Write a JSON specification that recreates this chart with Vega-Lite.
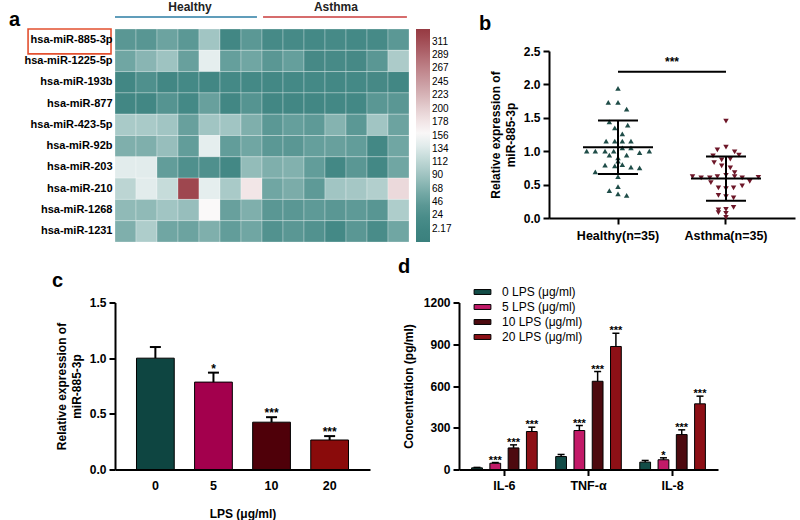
{
  "$schema": "https://vega.github.io/schema/vega-lite/v6.json",
  "padding": {"left": 9, "top": 1, "right": 5, "bottom": 2},
  "config": {
    "font": "Liberation Sans",
    "view": {"stroke": null},
    "axis": {"grid": false, "domainColor": "#000", "domainWidth": 2, "tickColor": "#000", "tickWidth": 2, "tickSize": 6, "labelColor": "#000", "labelFontWeight": "bold", "labelFontSize": 12, "titleColor": "#000", "titleFontWeight": "bold", "titleFontSize": 12, "titleLineHeight": 15},
    "title": {"fontSize": 20, "fontWeight": "bold", "anchor": "start", "frame": "group", "color": "#000", "baseline": "alphabetic"},
    "legend": {"labelColor": "#000"}
  },
  "resolve": {"scale": {"color": "independent", "shape": "independent", "xOffset": "independent"}, "legend": {"color": "independent"}},
  "datasets": {
    "heat": [
      {"m": "hsa-miR-885-3p", "H1": 40, "H2": 38, "H3": 55, "H4": 42, "H5": 92, "H6": 8, "H7": 42, "A1": 15, "A2": 15, "A3": 12, "A4": 15, "A5": 12, "A6": 15, "A7": 42},
      {"m": "hsa-miR-1225-5p", "H1": 58, "H2": 75, "H3": 90, "H4": 52, "H5": 142, "H6": 50, "H7": 58, "A1": 40, "A2": 50, "A3": 14, "A4": 16, "A5": 14, "A6": 40, "A7": 100},
      {"m": "hsa-miR-193b", "H1": 8, "H2": 28, "H3": 8, "H4": 12, "H5": 8, "H6": 12, "H7": 12, "A1": 10, "A2": 12, "A3": 12, "A4": 10, "A5": 12, "A6": 14, "A7": 8},
      {"m": "hsa-miR-877", "H1": 8, "H2": 8, "H3": 35, "H4": 12, "H5": 52, "H6": 8, "H7": 35, "A1": 8, "A2": 8, "A3": 8, "A4": 10, "A5": 10, "A6": 40, "A7": 40},
      {"m": "hsa-miR-423-5p", "H1": 98, "H2": 98, "H3": 92, "H4": 52, "H5": 92, "H6": 92, "H7": 68, "A1": 42, "A2": 50, "A3": 45, "A4": 72, "A5": 42, "A6": 92, "A7": 55},
      {"m": "hsa-miR-92b", "H1": 68, "H2": 68, "H3": 85, "H4": 48, "H5": 142, "H6": 48, "H7": 58, "A1": 42, "A2": 40, "A3": 50, "A4": 52, "A5": 48, "A6": 10, "A7": 58},
      {"m": "hsa-miR-203", "H1": 140, "H2": 140, "H3": 48, "H4": 28, "H5": 28, "H6": 10, "H7": 82, "A1": 68, "A2": 70, "A3": 48, "A4": 10, "A5": 40, "A6": 10, "A7": 58},
      {"m": "hsa-miR-210", "H1": 112, "H2": 140, "H3": 120, "H4": 318, "H5": 142, "H6": 98, "H7": 178, "A1": 58, "A2": 65, "A3": 45, "A4": 92, "A5": 95, "A6": 105, "A7": 190},
      {"m": "hsa-miR-1268", "H1": 80, "H2": 80, "H3": 92, "H4": 85, "H5": 158, "H6": 52, "H7": 68, "A1": 40, "A2": 40, "A3": 45, "A4": 40, "A5": 45, "A6": 38, "A7": 102},
      {"m": "hsa-miR-1231", "H1": 68, "H2": 102, "H3": 58, "H4": 55, "H5": 68, "H6": 48, "H7": 58, "A1": 32, "A2": 40, "A3": 32, "A4": 12, "A5": 40, "A6": 20, "A7": 58}
    ],
    "groups": [
      {"label": "Healthy", "x0": 0.0, "x1": 6.76, "xm": 3.57},
      {"label": "Asthma", "x0": 7.05, "x1": 13.9, "xm": 10.52}
    ],
    "pts": [
      {"g": "Healthy(n=35)", "j": 0, "v": 1.94},
      {"g": "Healthy(n=35)", "j": -0.09, "v": 1.73},
      {"g": "Healthy(n=35)", "j": 0, "v": 1.73},
      {"g": "Healthy(n=35)", "j": 0.08, "v": 1.63},
      {"g": "Healthy(n=35)", "j": -0.08, "v": 1.44},
      {"g": "Healthy(n=35)", "j": 0.09, "v": 1.39},
      {"g": "Healthy(n=35)", "j": -0.03, "v": 1.35},
      {"g": "Healthy(n=35)", "j": 0.04, "v": 1.26},
      {"g": "Healthy(n=35)", "j": -0.11, "v": 1.15},
      {"g": "Healthy(n=35)", "j": -0.03, "v": 1.15},
      {"g": "Healthy(n=35)", "j": 0.04, "v": 1.15},
      {"g": "Healthy(n=35)", "j": 0.12, "v": 1.15},
      {"g": "Healthy(n=35)", "j": -0.29, "v": 1.0},
      {"g": "Healthy(n=35)", "j": -0.21, "v": 1.0},
      {"g": "Healthy(n=35)", "j": -0.12, "v": 1.0},
      {"g": "Healthy(n=35)", "j": -0.04, "v": 1.0},
      {"g": "Healthy(n=35)", "j": 0.04, "v": 1.05},
      {"g": "Healthy(n=35)", "j": 0.12, "v": 1.05},
      {"g": "Healthy(n=35)", "j": 0.2, "v": 0.98},
      {"g": "Healthy(n=35)", "j": 0.29, "v": 1.0},
      {"g": "Healthy(n=35)", "j": -0.08, "v": 0.94},
      {"g": "Healthy(n=35)", "j": 0.08, "v": 0.94},
      {"g": "Healthy(n=35)", "j": 0, "v": 0.9},
      {"g": "Healthy(n=35)", "j": 0, "v": 0.85},
      {"g": "Healthy(n=35)", "j": -0.12, "v": 0.79},
      {"g": "Healthy(n=35)", "j": -0.03, "v": 0.78},
      {"g": "Healthy(n=35)", "j": 0.04, "v": 0.8},
      {"g": "Healthy(n=35)", "j": 0.12, "v": 0.76},
      {"g": "Healthy(n=35)", "j": 0.2, "v": 0.75},
      {"g": "Healthy(n=35)", "j": -0.21, "v": 0.69},
      {"g": "Healthy(n=35)", "j": 0, "v": 0.62},
      {"g": "Healthy(n=35)", "j": -0.08, "v": 0.41},
      {"g": "Healthy(n=35)", "j": 0, "v": 0.47},
      {"g": "Healthy(n=35)", "j": 0, "v": 0.36},
      {"g": "Healthy(n=35)", "j": 0.08, "v": 0.34},
      {"g": "Asthma(n=35)", "j": 0, "v": 1.45},
      {"g": "Asthma(n=35)", "j": -0.08, "v": 1.02},
      {"g": "Asthma(n=35)", "j": 0, "v": 1.06},
      {"g": "Asthma(n=35)", "j": 0.08, "v": 0.99},
      {"g": "Asthma(n=35)", "j": 0.12, "v": 0.94},
      {"g": "Asthma(n=35)", "j": -0.12, "v": 0.93},
      {"g": "Asthma(n=35)", "j": -0.11, "v": 0.83},
      {"g": "Asthma(n=35)", "j": -0.04, "v": 0.87},
      {"g": "Asthma(n=35)", "j": 0.04, "v": 0.88},
      {"g": "Asthma(n=35)", "j": 0.04, "v": 0.75},
      {"g": "Asthma(n=35)", "j": 0.08, "v": 0.68},
      {"g": "Asthma(n=35)", "j": -0.04, "v": 0.78},
      {"g": "Asthma(n=35)", "j": -0.31, "v": 0.62},
      {"g": "Asthma(n=35)", "j": -0.23, "v": 0.6},
      {"g": "Asthma(n=35)", "j": -0.15, "v": 0.6},
      {"g": "Asthma(n=35)", "j": -0.08, "v": 0.62},
      {"g": "Asthma(n=35)", "j": 0, "v": 0.64},
      {"g": "Asthma(n=35)", "j": 0.08, "v": 0.62},
      {"g": "Asthma(n=35)", "j": 0.15, "v": 0.6},
      {"g": "Asthma(n=35)", "j": 0.22, "v": 0.55},
      {"g": "Asthma(n=35)", "j": 0.3, "v": 0.61},
      {"g": "Asthma(n=35)", "j": -0.14, "v": 0.53},
      {"g": "Asthma(n=35)", "j": -0.07, "v": 0.45},
      {"g": "Asthma(n=35)", "j": 0, "v": 0.44},
      {"g": "Asthma(n=35)", "j": 0.07, "v": 0.45},
      {"g": "Asthma(n=35)", "j": 0.15, "v": 0.48},
      {"g": "Asthma(n=35)", "j": -0.07, "v": 0.34},
      {"g": "Asthma(n=35)", "j": 0, "v": 0.32},
      {"g": "Asthma(n=35)", "j": 0.07, "v": 0.3},
      {"g": "Asthma(n=35)", "j": -0.07, "v": 0.12},
      {"g": "Asthma(n=35)", "j": 0, "v": 0.13},
      {"g": "Asthma(n=35)", "j": 0.07, "v": 0.16},
      {"g": "Asthma(n=35)", "j": -0.07, "v": 0.08},
      {"g": "Asthma(n=35)", "j": 0, "v": 0.07},
      {"g": "Asthma(n=35)", "j": 0, "v": 0.01}
    ],
    "stats": [
      {"g": "Healthy(n=35)", "mean": 1.06, "lo": 0.66, "hi": 1.46},
      {"g": "Asthma(n=35)", "mean": 0.59, "lo": 0.26, "hi": 0.92}
    ],
    "sig": [
      {"g": "Healthy(n=35)", "g2": "Asthma(n=35)", "v": 2.19, "t": 2.27, "j": 0.5, "s": "***"}
    ],
    "cdata": [
      {"lps": "0", "v": 1.0, "e": 1.1, "sig": ""},
      {"lps": "5", "v": 0.785, "e": 0.87, "sig": "*"},
      {"lps": "10", "v": 0.425, "e": 0.47, "sig": "***"},
      {"lps": "20", "v": 0.265, "e": 0.3, "sig": "***"}
    ],
    "ddata": [
      {"ck": "IL-6", "dose": "0", "v": 12, "e": 15, "sig": ""},
      {"ck": "IL-6", "dose": "5", "v": 45, "e": 50, "sig": "***"},
      {"ck": "IL-6", "dose": "10", "v": 155, "e": 177, "sig": "***"},
      {"ck": "IL-6", "dose": "20", "v": 273, "e": 304, "sig": "***"},
      {"ck": "TNF-α", "dose": "0", "v": 93, "e": 108, "sig": ""},
      {"ck": "TNF-α", "dose": "5", "v": 280, "e": 316, "sig": "***"},
      {"ck": "TNF-α", "dose": "10", "v": 634, "e": 704, "sig": "***"},
      {"ck": "TNF-α", "dose": "20", "v": 884, "e": 979, "sig": "***"},
      {"ck": "IL-8", "dose": "0", "v": 53, "e": 65, "sig": ""},
      {"ck": "IL-8", "dose": "5", "v": 70, "e": 84, "sig": "*"},
      {"ck": "IL-8", "dose": "10", "v": 251, "e": 285, "sig": "***"},
      {"ck": "IL-8", "dose": "20", "v": 472, "e": 527, "sig": "***"}
    ]
  },
  "vconcat": [
    {
      "resolve": {"scale": {"color": "independent", "shape": "independent", "xOffset": "independent"}, "legend": {"color": "independent"}},
      "hconcat": [
        {
          "width": 294,
          "height": 213,
          "title": {"text": "a", "dx": -106, "dy": 32, "offset": 3},
          "layer": [
            {
              "data": {"name": "heat"},
              "transform": [{"fold": ["H1", "H2", "H3", "H4", "H5", "H6", "H7", "A1", "A2", "A3", "A4", "A5", "A6", "A7"], "as": ["s", "v"]}],
              "mark": {"type": "rect", "stroke": "#ffffff", "strokeWidth": 0.6, "strokeOpacity": 0.45},
              "encoding": {
                "x": {"field": "s", "type": "nominal", "scale": {"domain": ["H1", "H2", "H3", "H4", "H5", "H6", "H7", "A1", "A2", "A3", "A4", "A5", "A6", "A7"], "paddingInner": 0, "paddingOuter": 0}, "axis": null},
                "y": {"field": "m", "type": "nominal", "scale": {"domain": ["hsa-miR-885-3p", "hsa-miR-1225-5p", "hsa-miR-193b", "hsa-miR-877", "hsa-miR-423-5p", "hsa-miR-92b", "hsa-miR-203", "hsa-miR-210", "hsa-miR-1268", "hsa-miR-1231"], "paddingInner": 0, "paddingOuter": 0}, "axis": {"title": null, "domain": false, "ticks": false, "labelPadding": 3, "labelFontSize": 11}},
                "color": {
                  "field": "v",
                  "type": "quantitative",
                  "scale": {"type": "linear", "interpolate": "rgb",
                    "domain": [-20, 2.17, 24, 46, 68, 90, 112, 134, 156, 178, 200, 223, 245, 267, 289, 311, 332],
                    "range": ["#3a807d", "#3f8582", "#4b8d8a", "#5f9b98", "#7fafac", "#9ec3c1", "#bcd5d3", "#d8e7e6", "#fbfbfb", "#f2e6e7", "#e5cfd1", "#d6b3b6", "#c99ba0", "#bf8288", "#b06870", "#a24d55", "#963a42"]},
                  "legend": {"orient": "right", "offset": 7, "title": null, "gradientLength": 213, "gradientThickness": 14, "gradientStrokeWidth": 0, "values": [2.17, 24, 46, 68, 90, 112, 134, 156, 178, 200, 223, 245, 267, 289, 311], "labelExpr": "datum.value < 3 ? '2.17' : format(datum.value, 'd')", "labelFontSize": 10, "labelFontWeight": "normal", "labelOverlap": false, "labelOffset": 2, "padding": 0}
                }
              }
            },
            {
              "data": {"name": "groups"},
              "mark": {"type": "rule", "strokeWidth": 1.6},
              "encoding": {
                "x": {"field": "x0", "type": "quantitative", "scale": {"domain": [0, 14], "nice": false, "zero": false}, "axis": null},
                "x2": {"field": "x1"},
                "y": {"datum": 1.056, "type": "quantitative", "scale": {"domain": [0, 1], "nice": false}, "axis": null},
                "color": {"field": "label", "type": "nominal", "scale": {"domain": ["Healthy", "Asthma"], "range": ["#2b7ca3", "#c83b3b"]}, "legend": null}
              }
            },
            {
              "data": {"name": "groups"},
              "mark": {"type": "text", "fontSize": 12, "fontWeight": "bold", "color": "#222", "baseline": "middle"},
              "encoding": {
                "x": {"field": "xm", "type": "quantitative", "scale": {"domain": [0, 14], "nice": false, "zero": false}, "axis": null},
                "y": {"datum": 1.103, "type": "quantitative", "scale": {"domain": [0, 1], "nice": false}, "axis": null},
                "text": {"field": "label"}
              }
            },
            {
              "data": {"values": [{"m": "hsa-miR-885-3p"}]},
              "mark": {"type": "rect", "fill": null, "fillOpacity": 0, "stroke": "#e2502f", "strokeWidth": 1.6},
              "encoding": {
                "x": {"datum": -4.14, "type": "quantitative", "scale": {"domain": [0, 14], "nice": false, "zero": false}, "axis": null},
                "x2": {"datum": -0.19},
                "y": {"datum": 0.883, "type": "quantitative", "scale": {"domain": [0, 1], "nice": false}, "axis": null},
                "y2": {"datum": 1.0}
              }
            }
          ],
          "resolve": {"scale": {"x": "independent", "y": "independent", "color": "independent"}}
        },
        {
          "resolve": {"scale": {"color": "independent", "shape": "independent", "xOffset": "independent"}, "legend": {"color": "independent"}},
          "vconcat": [
            {"width": 246, "height": 1, "title": {"text": "b", "dx": -70, "dy": 10, "offset": 0}, "data": {"values": [{"k": 1}]}, "mark": {"type": "text", "text": " "}, "encoding": {}},
            {
              "width": 246,
              "height": 167,
              "encoding": {
                "x": {"field": "g", "type": "nominal", "scale": {"domain": ["Healthy(n=35)", "Asthma(n=35)"], "paddingInner": 0, "paddingOuter": 0.139}, "axis": {"title": null, "labelAngle": 0, "labelPadding": 5, "labelFontSize": 12.5}}
              },
              "layer": [
                {
                  "data": {"name": "pts"},
                  "mark": {"type": "point", "filled": true, "size": 30, "opacity": 1},
                  "encoding": {
                    "xOffset": {"field": "j", "type": "quantitative", "scale": {"domain": [-0.5, 0.5]}},
                    "y": {"field": "v", "type": "quantitative", "scale": {"domain": [0, 2.5], "nice": false}, "axis": {"values": [0, 0.5, 1, 1.5, 2, 2.5], "format": ".1f", "titlePadding": 6, "labelPadding": 3}, "title": ["Relative expression of", "miR-885-3p"]},
                    "shape": {"field": "g", "type": "nominal", "scale": {"domain": ["Healthy(n=35)", "Asthma(n=35)"], "range": ["triangle-up", "triangle-down"]}, "legend": null},
                    "color": {"field": "g", "type": "nominal", "scale": {"domain": ["Healthy(n=35)", "Asthma(n=35)"], "range": ["#1f4d48", "#6d1628"]}, "legend": null}
                  }
                },
                {
                  "data": {"name": "stats"},
                  "mark": {"type": "rule", "strokeWidth": 2, "color": "#000"},
                  "encoding": {
                    "y": {"field": "lo", "type": "quantitative", "scale": {"domain": [0, 2.5], "nice": false}, "axis": {"values": [0, 0.5, 1, 1.5, 2, 2.5], "format": ".1f", "titlePadding": 6, "labelPadding": 3}, "title": ["Relative expression of", "miR-885-3p"]},
                    "y2": {"field": "hi"}
                  }
                },
                {
                  "data": {"name": "stats"},
                  "mark": {"type": "tick", "size": 70, "thickness": 2, "color": "#000", "opacity": 1},
                  "encoding": {
                    "y": {"field": "mean", "type": "quantitative", "scale": {"domain": [0, 2.5], "nice": false}, "axis": {"values": [0, 0.5, 1, 1.5, 2, 2.5], "format": ".1f", "titlePadding": 6, "labelPadding": 3}, "title": ["Relative expression of", "miR-885-3p"]}
                  }
                },
                {
                  "data": {"name": "stats"},
                  "mark": {"type": "tick", "size": 40, "thickness": 2, "color": "#000", "opacity": 1},
                  "encoding": {
                    "y": {"field": "lo", "type": "quantitative", "scale": {"domain": [0, 2.5], "nice": false}, "axis": {"values": [0, 0.5, 1, 1.5, 2, 2.5], "format": ".1f", "titlePadding": 6, "labelPadding": 3}, "title": ["Relative expression of", "miR-885-3p"]}
                  }
                },
                {
                  "data": {"name": "stats"},
                  "mark": {"type": "tick", "size": 40, "thickness": 2, "color": "#000", "opacity": 1},
                  "encoding": {
                    "y": {"field": "hi", "type": "quantitative", "scale": {"domain": [0, 2.5], "nice": false}, "axis": {"values": [0, 0.5, 1, 1.5, 2, 2.5], "format": ".1f", "titlePadding": 6, "labelPadding": 3}, "title": ["Relative expression of", "miR-885-3p"]}
                  }
                },
                {
                  "data": {"name": "sig"},
                  "mark": {"type": "rule", "strokeWidth": 2, "color": "#000"},
                  "encoding": {
                    "x2": {"field": "g2"},
                    "y": {"field": "v", "type": "quantitative", "scale": {"domain": [0, 2.5], "nice": false}, "axis": {"values": [0, 0.5, 1, 1.5, 2, 2.5], "format": ".1f", "titlePadding": 6, "labelPadding": 3}, "title": ["Relative expression of", "miR-885-3p"]}
                  }
                },
                {
                  "data": {"name": "sig"},
                  "mark": {"type": "text", "fontSize": 12, "fontWeight": "bold", "baseline": "alphabetic", "color": "#000"},
                  "encoding": {
                    "xOffset": {"field": "j", "type": "quantitative", "scale": {"domain": [-0.5, 0.5]}},
                    "y": {"field": "t", "type": "quantitative", "scale": {"domain": [0, 2.5], "nice": false}, "axis": {"values": [0, 0.5, 1, 1.5, 2, 2.5], "format": ".1f", "titlePadding": 6, "labelPadding": 3}, "title": ["Relative expression of", "miR-885-3p"]},
                    "text": {"field": "s"}
                  }
                }
              ]
            }
          ],
          "spacing": 10
        }
      ],
      "spacing": 27
    },
    {
      "resolve": {"scale": {"color": "independent", "shape": "independent", "xOffset": "independent"}, "legend": {"color": "independent"}},
      "hconcat": [
        {
          "width": 255,
          "height": 167,
          "title": {"text": "c", "dx": -63, "offset": 5.5},
          "data": {"name": "cdata"},
          "encoding": {
            "x": {"field": "lps", "type": "nominal", "scale": {"domain": ["0", "5", "10", "20"], "paddingInner": 0.35, "paddingOuter": 0.37}, "axis": {"title": "LPS (μg/ml)", "labelAngle": 0, "ticks": false, "labelPadding": 10, "titlePadding": 16, "labelFontSize": 12.5}}
          },
          "layer": [
            {
              "mark": {"type": "bar", "stroke": "#000", "strokeWidth": 1},
              "encoding": {
                "y": {"field": "v", "type": "quantitative", "scale": {"domain": [0, 1.5], "nice": false}, "axis": {"values": [0, 0.5, 1, 1.5], "format": ".1f", "titlePadding": 6, "labelPadding": 3}, "title": ["Relative expression of", "miR-885-3p"]},
                "color": {"field": "lps", "type": "nominal", "scale": {"domain": ["0", "5", "10", "20"], "range": ["#0e4541", "#a3004d", "#4f0009", "#8a0b0b"]}, "legend": null}
              }
            },
            {
              "mark": {"type": "rule", "strokeWidth": 2, "color": "#000"},
              "encoding": {
                "y": {"field": "v", "type": "quantitative", "scale": {"domain": [0, 1.5], "nice": false}, "axis": {"values": [0, 0.5, 1, 1.5], "format": ".1f", "titlePadding": 6, "labelPadding": 3}, "title": ["Relative expression of", "miR-885-3p"]},
                "y2": {"field": "e"}
              }
            },
            {
              "mark": {"type": "tick", "size": 11, "thickness": 2, "color": "#000", "opacity": 1},
              "encoding": {
                "y": {"field": "e", "type": "quantitative", "scale": {"domain": [0, 1.5], "nice": false}, "axis": {"values": [0, 0.5, 1, 1.5], "format": ".1f", "titlePadding": 6, "labelPadding": 3}, "title": ["Relative expression of", "miR-885-3p"]}
              }
            },
            {
              "mark": {"type": "text", "fontSize": 12, "fontWeight": "bold", "baseline": "alphabetic", "dy": 0, "color": "#000"},
              "encoding": {
                "y": {"field": "e", "type": "quantitative", "scale": {"domain": [0, 1.5], "nice": false}, "axis": {"values": [0, 0.5, 1, 1.5], "format": ".1f", "titlePadding": 6, "labelPadding": 3}, "title": ["Relative expression of", "miR-885-3p"]},
                "text": {"field": "sig"}
              }
            }
          ]
        },
        {
          "width": 259,
          "height": 167,
          "title": {"text": "d", "dx": -61, "offset": 8},
          "data": {"name": "ddata"},
          "encoding": {
            "x": {"field": "ck", "type": "nominal", "scale": {"domain": ["IL-6", "TNF-α", "IL-8"], "paddingInner": 0.12, "paddingOuter": 0.1}, "axis": {"title": null, "labelAngle": 0, "labelPadding": 4, "labelFontSize": 12.5}},
            "xOffset": {"field": "dose", "type": "nominal", "scale": {"domain": ["0", "5", "10", "20"], "paddingInner": 0.41, "paddingOuter": 0.23}}
          },
          "layer": [
            {
              "mark": {"type": "bar", "stroke": "#000", "strokeWidth": 1},
              "encoding": {
                "y": {"field": "v", "type": "quantitative", "scale": {"domain": [0, 1200], "nice": false}, "axis": {"values": [0, 300, 600, 900, 1200], "format": "d", "titlePadding": 8, "labelPadding": 3}, "title": "Concentration (pg/ml)"},
                "color": {"field": "dose", "type": "nominal", "scale": {"domain": ["0", "5", "10", "20"], "range": ["#124c47", "#c21a68", "#4d0a0f", "#8d1016"]},
                  "legend": {"orient": "none", "legendX": 16, "legendY": -18, "title": null, "symbolType": "M-1.2,-0.35H1.2V0.35H-1.2Z", "symbolSize": 196, "symbolStrokeColor": "#000", "symbolStrokeWidth": 1, "labelFontSize": 12, "labelFontWeight": "normal", "labelOffset": 12, "rowPadding": 1, "padding": 0, "labelExpr": "datum.label + ' LPS (μg/ml)'"}}
              }
            },
            {
              "mark": {"type": "rule", "strokeWidth": 1.5, "color": "#000"},
              "encoding": {
                "y": {"field": "v", "type": "quantitative", "scale": {"domain": [0, 1200], "nice": false}, "axis": {"values": [0, 300, 600, 900, 1200], "format": "d", "titlePadding": 8, "labelPadding": 3}, "title": "Concentration (pg/ml)"},
                "y2": {"field": "e"}
              }
            },
            {
              "mark": {"type": "tick", "size": 7, "thickness": 1.5, "color": "#000", "opacity": 1},
              "encoding": {
                "y": {"field": "e", "type": "quantitative", "scale": {"domain": [0, 1200], "nice": false}, "axis": {"values": [0, 300, 600, 900, 1200], "format": "d", "titlePadding": 8, "labelPadding": 3}, "title": "Concentration (pg/ml)"}
              }
            },
            {
              "mark": {"type": "text", "fontSize": 11, "fontWeight": "bold", "baseline": "alphabetic", "dy": 1, "color": "#000"},
              "encoding": {
                "y": {"field": "e", "type": "quantitative", "scale": {"domain": [0, 1200], "nice": false}, "axis": {"values": [0, 300, 600, 900, 1200], "format": "d", "titlePadding": 8, "labelPadding": 3}, "title": "Concentration (pg/ml)"},
                "text": {"field": "sig"}
              }
            }
          ]
        }
      ],
      "spacing": 28
    }
  ],
  "spacing": 13.5
}
